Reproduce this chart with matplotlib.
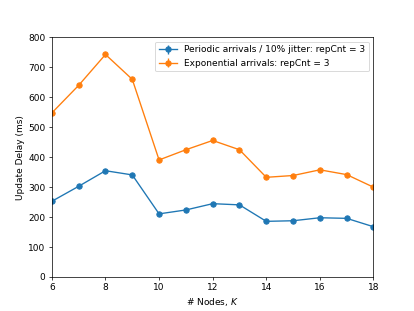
import numpy as np
import matplotlib
matplotlib.use('Agg')
import matplotlib.pyplot as plt

### Data
nodes = np.arange(6, 19)
periodic = [252, 302, 354, 340, 210, 223, 244, 240, 185, 187, 197, 195, 167]
periodic_err = [3, 3, 4, 4, 3, 3, 3, 3, 3, 3, 3, 3, 3]
exponential = [547, 639, 742, 659, 390, 424, 455, 424, 332, 338, 357, 341, 299]
exponential_err = [6, 6, 7, 7, 5, 5, 5, 5, 4, 4, 4, 4, 4]

### Plot
fig = plt.figure(figsize=(6.4, 4.8), dpi=64.84)
ax = plt.subplot(111)

ax.errorbar(nodes, periodic, yerr=periodic_err, marker='o',
            label='Periodic arrivals / 10% jitter: repCnt = 3')
ax.errorbar(nodes, exponential, yerr=exponential_err, marker='o',
            label='Exponential arrivals: repCnt = 3')

ax.set_xlim([6, 18])
ax.set_ylim([0, 800])
ax.set_xlabel('# Nodes, $K$')
ax.set_ylabel('Update Delay (ms)')
ax.legend(loc='upper right')

plt.savefig('out.png', dpi=64.84)
